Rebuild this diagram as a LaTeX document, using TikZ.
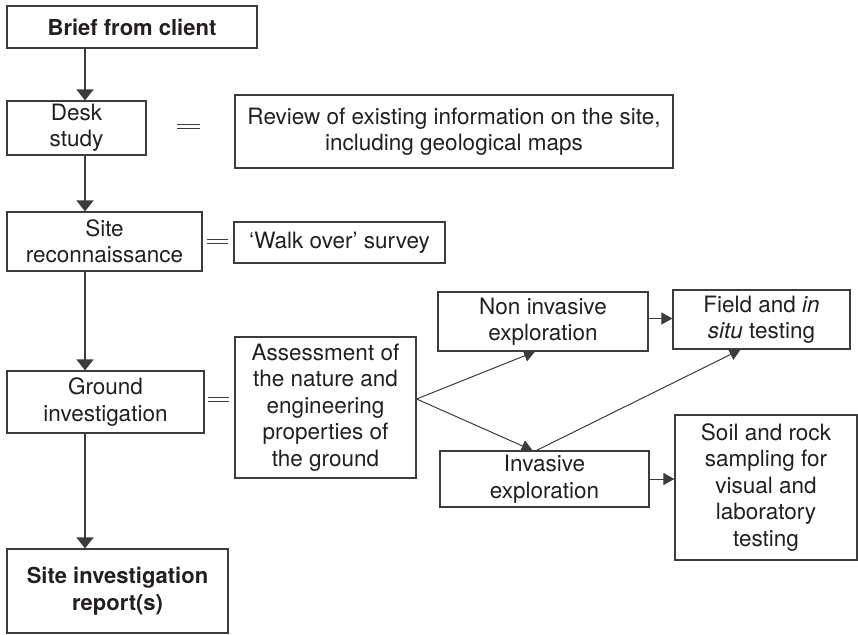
\documentclass[tikz,border=0pt]{standalone}
\usepackage{fontspec}
\setmainfont{TeX Gyre Heros}
\usetikzlibrary{arrows.meta,positioning}
\definecolor{inkgrey}{RGB}{35,31,32}
\definecolor{linegrey}{RGB}{60,60,60}

\begin{document}
\begin{tikzpicture}[x=1pt,y=-1pt,color=linegrey,line width=1pt,-{Triangle[length=11pt,width=12pt]},
	boxnode/.style={rectangle,draw=linegrey,line width=1.2pt,inner sep=0pt,align=center,text=inkgrey,font=\fontsize{22.5}{26.5}\selectfont},
	boldnode/.style={boxnode,font=\fontsize{22}{26.5}\selectfont\bfseries},
	downarrow/.style={line width=1.2pt,-{Triangle[length=11pt,width=17pt]}},
	eqsign/.style={-,double=white,double distance=3.2pt,line width=1pt}]
	
	\useasboundingbox (0,0) rectangle (858,634);
	
	\node [boldnode,minimum width=250pt,minimum height=42pt] (brief) at (132,27) {Brief from client};
	\node [boxnode,minimum width=139pt,minimum height=54pt] (desk) at (76.5,128) {Desk\\study};
	\node [boxnode,minimum width=438pt,minimum height=73pt] (review) at (454,131.5) {Review of existing information on the site,\\including geological maps};
	\node [boxnode,minimum width=195pt,minimum height=59pt] (site) at (104.5,241.5) {Site\\reconnaissance};
	\node [boxnode,minimum width=211pt,minimum height=41pt] (walk) at (339.5,242.5) {`Walk over' survey};
	\node [boxnode,minimum width=197pt,minimum height=62pt] (ground) at (105.5,402) {Ground\\investigation};
	\node [boxnode,minimum width=181pt,minimum height=141pt] (assess) at (325.5,407.5) {Assessment of\\the nature and\\engineering\\properties of\\the ground};
	\node [boxnode,minimum width=210pt,minimum height=59pt] (noninv) at (543,321.5) {Non invasive\\exploration};
	\node [boxnode,minimum width=177pt,minimum height=59pt] (field) at (761.5,319.5) {Field and \textit{in}\\\textit{situ} testing};
	\node [boxnode,minimum width=209pt,minimum height=56pt] (inv) at (544.5,479) {Invasive\\exploration};
	\node [boxnode,minimum width=182pt,minimum height=145pt] (soil) at (766,487.5) {Soil and rock\\sampling for\\visual and\\laboratory\\testing};
	\node [boldnode,minimum width=221pt,minimum height=84pt] (report) at (117.5,591) {Site investigation\\report(s)};
	
	\coordinate (spine) at (85,0);
	\coordinate (fork) at ([yshift=8.5pt]assess.east);
	
	\draw[downarrow] (brief.south -| spine) to (desk.north -| spine);
	\draw[downarrow] (desk.south -| spine) to (site.north -| spine);
	\draw[downarrow] (site.south -| spine) to (ground.north -| spine);
	\draw[downarrow] (ground.south -| spine) to (report.north -| spine);
	
	\draw (fork) to ([xshift=-8pt]noninv.south);
	\draw (fork) to ([xshift=-12pt]inv.north);
	\draw ([xshift=-8pt]inv.north) to ([xshift=-21pt]field.south);
	\draw ([yshift=3pt]noninv.east) to ([yshift=3pt]noninv.east -| field.west);
	\draw (inv.east) to (inv.east -| soil.west);
	
	\draw[eqsign] (177,126.7) -- (200,126.7);
	\draw[eqsign] (207,241.7) -- (228,241.7);
	\draw[eqsign] (208,399.5) -- (229,399.5);
\end{tikzpicture}
\end{document}
